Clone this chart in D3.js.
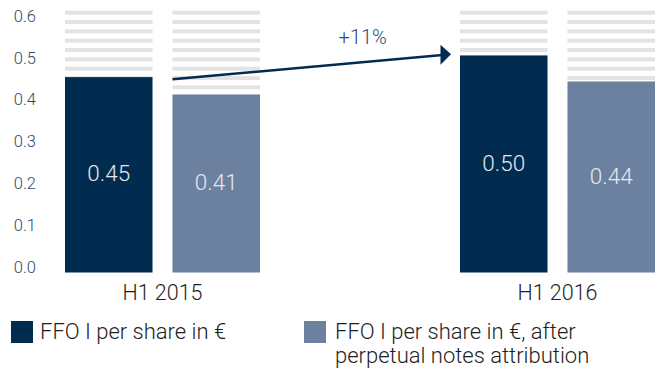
<!DOCTYPE html>
<html>
<head>
<meta charset="utf-8">
<script src="https://cdn.jsdelivr.net/npm/d3@7"></script>
<style>
  html, body { margin: 0; padding: 0; background: #fff; }
  svg { display: block; font-family: Roboto, "Liberation Sans", Arial, sans-serif; }
</style>
</head>
<body>
<svg id="chart" width="662" height="368"></svg>
<script>
// FFO I per share, half-year comparison
const periods = ["H1 2015", "H1 2016"];
const seriesKeys = ["ffo", "ffoAfterNotes"];
const seriesLabels = ["FFO I per share in €", "FFO I per share in €, after", "perpetual notes attribution"];
const ffoValues = [0.45, 0.50];
const ffoAfterNotesValues = [0.41, 0.44];
const yTickValues = [0.0, 0.1, 0.2, 0.3, 0.4, 0.5, 0.6];
const growthLabel = "+11%";

const colors = { ffo: "#022b50", ffoAfterNotes: "#6b819f" };
const stripeColor = "#e3e3e3";
const navy = "#022b50";
const axisText = "#2f4b6b";
const bodyText = "#1e1e1e";

const rows = periods.map((p, i) => ({
  period: p,
  ffo: ffoValues[i],
  ffoAfterNotes: ffoAfterNotesValues[i]
}));

const svg = d3.select("#chart");

const y = d3.scaleLinear().domain([0, 0.6]).range([272.5, 12]);
const yLabels = y.copy().range([267, 16]);

const x0 = d3.scaleBand().domain(periods).range([65, 655]).paddingInner(200 / 395);
const x1 = d3.scaleBand().domain(seriesKeys).range([0, x0.bandwidth()]).paddingInner(20 / 107.5);

// Y axis labels (no line, no ticks)
const yAxis = d3.axisLeft(yLabels).tickValues(yTickValues).tickFormat(d3.format(".1f")).tickSize(0).tickPadding(0);
const gAxis = svg.append("g").attr("transform", "translate(36,0)").call(yAxis);
gAxis.select(".domain").remove();
gAxis.selectAll("text")
  .attr("fill", axisText)
  .style("font-size", "16.5px")
  .style("font-weight", 300)
  .style("font-family", "Roboto, 'Liberation Sans', Arial, sans-serif");

// Striped backgrounds behind each bar slot
const stripePeriod = 28 / 3;
const stripeTops = d3.range(28).map(k => 10.7 + k * stripePeriod);
const groups = svg.selectAll("g.group")
  .data(rows)
  .join("g")
  .attr("class", "group")
  .attr("transform", d => `translate(${x0(d.period)},0)`);

groups.each(function () {
  const g = d3.select(this);
  seriesKeys.forEach(k => {
    g.append("g").selectAll("rect")
      .data(stripeTops)
      .join("rect")
      .attr("x", x1(k))
      .attr("y", t => t)
      .attr("width", x1.bandwidth())
      .attr("height", 4)
      .attr("fill", stripeColor);
  });
});

// Bars
groups.selectAll("rect.bar")
  .data(d => seriesKeys.map(k => ({ key: k, value: d[k] })))
  .join("rect")
  .attr("class", "bar")
  .attr("x", d => x1(d.key))
  .attr("y", d => y(d.value))
  .attr("width", x1.bandwidth())
  .attr("height", d => y(0) - y(d.value))
  .attr("fill", d => colors[d.key]);

// Value labels inside bars
groups.selectAll("text.value")
  .data(d => seriesKeys.map(k => ({ key: k, value: d[k] })))
  .join("text")
  .attr("class", "value")
  .attr("x", d => x1(d.key) + x1.bandwidth() / 2)
  .attr("y", d => (y(d.value) + y(0)) / 2 - 1.5)
  .attr("dy", "0.36em")
  .attr("text-anchor", "middle")
  .attr("fill", "#e4e9ef")
  .style("font-size", "22.5px")
  .style("font-weight", 300)
  .text(d => d3.format(".2f")(d.value));

// Category labels
svg.selectAll("text.cat")
  .data(periods)
  .join("text")
  .attr("class", "cat")
  .attr("x", d => x0(d) + x0.bandwidth() / 2)
  .attr("y", 300)
  .attr("text-anchor", "middle")
  .attr("fill", bodyText)
  .style("font-size", "21.5px")
  .style("font-weight", 300)
  .text(d => d);

// Growth arrow from H1 2015 to H1 2016
const xs = x0(periods[0]) + x1("ffoAfterNotes");
const ys = y(ffoValues[0]) + 2.2;
const xTip = x0(periods[1]) - 9;
const yTip = y(ffoValues[1]) - 1.2;
const xBase = xTip - 10.5;
const slope = (yTip - ys) / (xTip - xs);
svg.append("line")
  .attr("x1", xs).attr("y1", ys)
  .attr("x2", xBase + 2).attr("y2", ys + slope * (xBase + 2 - xs))
  .attr("stroke", navy)
  .attr("stroke-width", 2.6);
svg.append("polygon")
  .attr("points", [[xTip, yTip], [xBase, yTip - 9.5], [xBase, yTip + 10.5]].map(p => p.join(",")).join(" "))
  .attr("fill", navy);
svg.append("text")
  .attr("x", (xs + xTip) / 2 + 51)
  .attr("y", 44)
  .attr("text-anchor", "middle")
  .attr("fill", axisText)
  .style("font-size", "20px")
  .style("font-weight", 300)
  .text(growthLabel);

// Legend
const legend = svg.append("g");
legend.append("rect").attr("x", 11).attr("y", 321).attr("width", 22).attr("height", 22).attr("fill", colors.ffo);
legend.append("text").attr("x", 40).attr("y", 339).attr("fill", bodyText)
  .style("font-size", "22px").style("font-weight", 300).text(seriesLabels[0]);
legend.append("rect").attr("x", 304).attr("y", 321).attr("width", 22).attr("height", 22).attr("fill", colors.ffoAfterNotes);
const lt = legend.append("text").attr("x", 335).attr("y", 339).attr("fill", bodyText)
  .style("font-size", "22px").style("font-weight", 300);
lt.append("tspan").attr("x", 335).text(seriesLabels[1]);
lt.append("tspan").attr("x", 335).attr("dy", 24).text(seriesLabels[2]);
</script>
</body>
</html>
